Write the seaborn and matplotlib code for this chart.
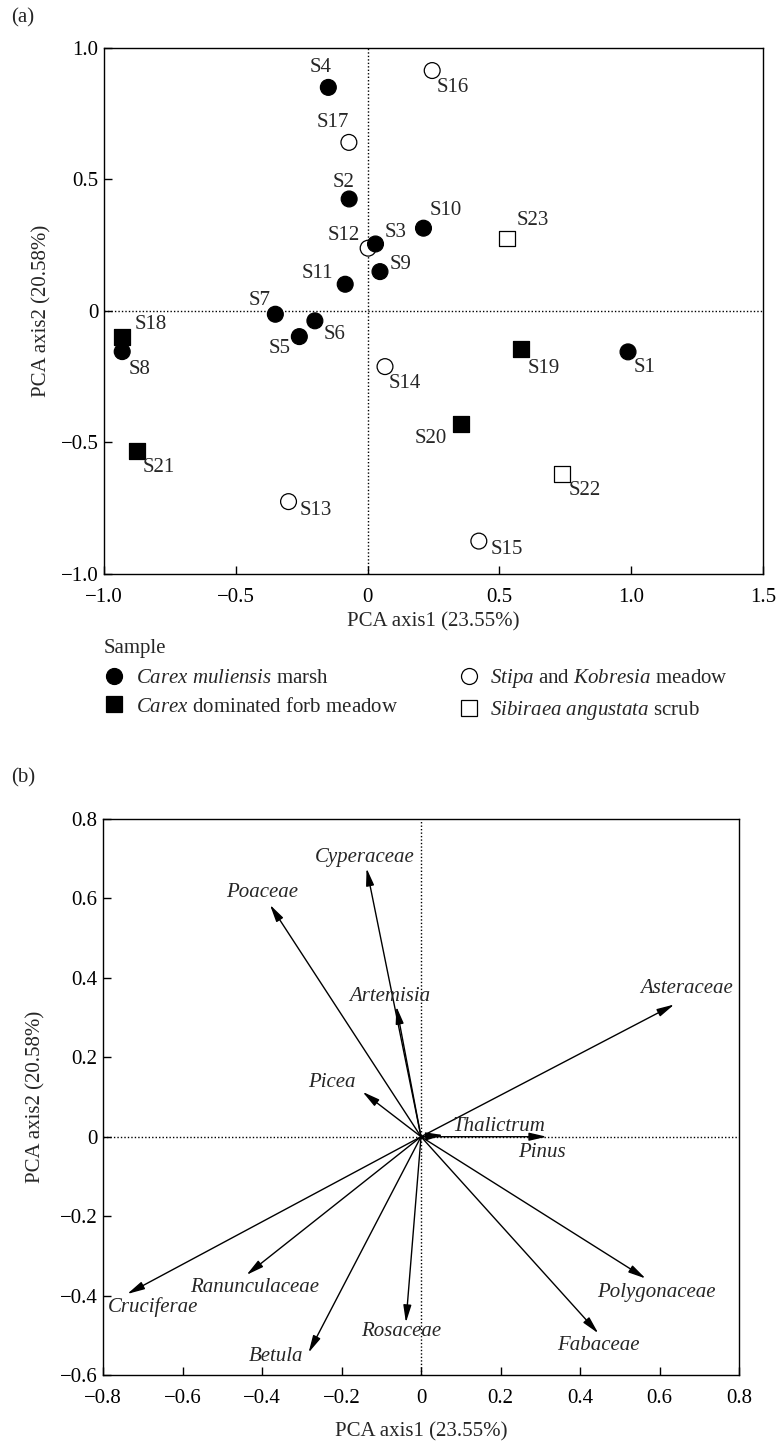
"""PCA of surface pollen samples: (a) sample scores, (b) taxon loadings."""

import matplotlib.pyplot as plt
import pandas as pd
import seaborn as sns
from matplotlib.lines import Line2D
from matplotlib.ticker import FuncFormatter, MultipleLocator

sns.set_theme(style="ticks")
plt.rcParams["font.family"] = ["Liberation Serif", "DejaVu Serif"]
plt.rcParams["mathtext.fontset"] = "custom"
plt.rcParams["mathtext.rm"] = "Liberation Serif"
plt.rcParams["mathtext.it"] = "Liberation Serif:italic"
plt.rcParams["font.size"] = 15
plt.rcParams["axes.unicode_minus"] = True

FS = 15

# --- (a) sample scores ---
SAMPLES = ["S1", "S2", "S3", "S4", "S5", "S6", "S7", "S8", "S9", "S10", "S11",
           "S12", "S13", "S14", "S15", "S16", "S17",
           "S18", "S19", "S20", "S21", "S22", "S23"]
AXIS1 = [0.988, -0.070, 0.030, -0.149, -0.259, -0.200, -0.350, -0.931, 0.047,
         0.212, -0.085, 0.002, -0.300, 0.066, 0.422, 0.245, -0.071,
         -0.931, 0.583, 0.354, -0.875, 0.736, 0.528]
AXIS2 = [-0.156, 0.425, 0.254, 0.849, -0.098, -0.038, -0.013, -0.155, 0.149,
         0.314, 0.101, 0.238, -0.725, -0.212, -0.875, 0.913, 0.640,
         -0.100, -0.146, -0.430, -0.532, -0.620, 0.275]
GROUP = ["marsh"] * 11 + ["meadow"] * 6 + ["forb"] * 4 + ["scrub"] * 2

GROUP_ORDER = ["meadow", "scrub", "marsh", "forb"]  # draw order (open first)
GROUP_LABELS = {
    "marsh": r"$\it{Carex\ muliensis}$ marsh",
    "forb": r"$\it{Carex}$ dominated forb meadow",
    "meadow": r"$\it{Stipa}$ and $\it{Kobresia}$ meadow",
    "scrub": r"$\it{Sibiraea\ angustata}$ scrub",
}
GROUP_MARKERS = {"marsh": "o", "forb": "s", "meadow": "o", "scrub": "s"}
GROUP_FACE = {"marsh": "black", "forb": "black", "meadow": "white", "scrub": "white"}

# label offsets (pixels) from each point
LABEL_OFFSET = {
    "S1": (17, -16), "S2": (-6, 16), "S3": (20, 11), "S4": (-8, 20),
    "S5": (-20, -12), "S6": (20, -14), "S7": (-16, 14), "S8": (17, -18),
    "S9": (21, 7), "S10": (22, 18), "S11": (-28, 11), "S12": (-24, 13),
    "S13": (27, -9), "S14": (20, -17), "S15": (28, -8), "S16": (21, -17),
    "S17": (-16, 20), "S18": (29, 13), "S19": (22, -19), "S20": (-30, -15),
    "S21": (22, -17), "S22": (23, -17), "S23": (26, 18),
}

# --- (b) taxon loadings ---
TAXA = ["Cyperaceae", "Poaceae", "Artemisia", "Picea", "Asteraceae",
        "Thalictrum", "Pinus", "Polygonaceae", "Fabaceae", "Rosaceae",
        "Betula", "Ranunculaceae", "Cruciferae"]
LOAD1 = [-0.137, -0.380, -0.062, -0.147, 0.637, 0.056, 0.316, 0.565, 0.446,
         -0.038, -0.283, -0.439, -0.739]
LOAD2 = [0.676, 0.584, 0.328, 0.113, 0.333, 0.004, 0.0, -0.357, -0.495,
         -0.468, -0.544, -0.348, -0.396]

TAXON_OFFSET = {
    "Cyperaceae": (-2, 11), "Poaceae": (-8, 12), "Artemisia": (-7, 10),
    "Picea": (-31, 9), "Asteraceae": (12, 16), "Thalictrum": (56, 9),
    "Pinus": (-5, -16), "Polygonaceae": (11, -14), "Fabaceae": (0, -12),
    "Rosaceae": (-5, -9), "Betula": (-32, -4), "Ranunculaceae": (8, -13),
    "Cruciferae": (26, -13),
}


def _fmt(v, _pos):
    if abs(v) < 1e-9:
        return "0"
    return f"{v:.1f}".replace("-", "\u2212")


def _style_axes(ax):
    for sp in ax.spines.values():
        sp.set_visible(True)
        sp.set_color("black")
        sp.set_linewidth(1.0)
    ax.tick_params(direction="in", length=6, width=1.0, colors="black",
                   labelsize=FS, top=False, right=False)
    ax.tick_params(axis="x", pad=10)
    ax.tick_params(axis="y", pad=4)
    ax.xaxis.set_major_formatter(FuncFormatter(_fmt))
    ax.yaxis.set_major_formatter(FuncFormatter(_fmt))
    ax.axhline(0, color="black", lw=1.0, ls=(0, (1, 1.5)), zorder=1)
    ax.axvline(0, color="black", lw=1.0, ls=(0, (1, 1.5)), zorder=1)


fig = plt.figure(figsize=(7.78, 14.44), dpi=100)

# ---------------- panel (a) ----------------
ax_a = fig.add_axes([0.1337, 0.6025, 0.847, 0.3645])
df = pd.DataFrame({"sample": SAMPLES, "pc1": AXIS1, "pc2": AXIS2, "group": GROUP})
df["group"] = pd.Categorical(df["group"], categories=GROUP_ORDER, ordered=True)
df = df.sort_values("group", kind="stable")

sns.scatterplot(
    data=df, x="pc1", y="pc2", hue="group", style="group",
    hue_order=GROUP_ORDER, style_order=GROUP_ORDER,
    palette=GROUP_FACE, markers=GROUP_MARKERS,
    s=130, edgecolor="black", linewidth=0.9, legend=False, zorder=3, ax=ax_a,
)
for name, x, y in zip(SAMPLES, AXIS1, AXIS2):
    ax_a.annotate(name, (x, y), xytext=LABEL_OFFSET[name],
                  textcoords="offset pixels", ha="center", va="center",
                  fontsize=FS, zorder=4)

ax_a.set_xlim(-1.0, 1.5)
ax_a.set_ylim(-1.0, 1.0)
ax_a.xaxis.set_major_locator(MultipleLocator(0.5))
ax_a.yaxis.set_major_locator(MultipleLocator(0.5))
_style_axes(ax_a)
ax_a.set_xlabel("PCA axis1 (23.55%)", fontsize=FS)
ax_a.set_ylabel("PCA axis2 (20.58%)", fontsize=FS)
ax_a.xaxis.set_label_coords(0.5, -0.072)
ax_a.yaxis.set_label_coords(-0.08, 0.5)

handles = [
    Line2D([], [], ls="none", marker=GROUP_MARKERS[g], markersize=11.5,
           markerfacecolor=GROUP_FACE[g], markeredgecolor="black",
           markeredgewidth=0.9)
    for g in ["marsh", "forb", "meadow", "scrub"]
]
labels = [GROUP_LABELS[g] for g in ["marsh", "forb", "meadow", "scrub"]]
leg = fig.legend(
    handles, labels, ncol=2, title="Sample", alignment="left",
    loc="upper left", bbox_to_anchor=(93 / 778, 1 - 629 / 1444),
    frameon=False, fontsize=FS, title_fontsize=FS, borderpad=0,
    handlelength=1.0, handletextpad=0.54, columnspacing=2.9,
    labelspacing=0.42,
)

fig.text(23 / 778, 1 - 18 / 1444, "(a)", ha="center", va="center", fontsize=FS)

# ---------------- panel (b) ----------------
ax_b = fig.add_axes([0.1324, 0.0478, 0.8175, 0.385])
ax_b.set_xlim(-0.8, 0.8)
ax_b.set_ylim(-0.6, 0.8)
ax_b.xaxis.set_major_locator(MultipleLocator(0.2))
ax_b.yaxis.set_major_locator(MultipleLocator(0.2))
_style_axes(ax_b)

for name, x, y in zip(TAXA, LOAD1, LOAD2):
    ax_b.annotate(
        "", xy=(x, y), xytext=(0, 0),
        arrowprops=dict(arrowstyle="-|>,head_length=0.95,head_width=0.22",
                        mutation_scale=11, lw=1.0, color="black",
                        shrinkA=0, shrinkB=0),
        zorder=3,
    )
    ax_b.annotate(name, (x, y), xytext=TAXON_OFFSET[name],
                  textcoords="offset pixels", ha="center", va="center",
                  fontsize=FS, fontstyle="italic", zorder=4)

ax_b.set_xlabel("PCA axis1 (23.55%)", fontsize=FS)
ax_b.set_ylabel("PCA axis2 (20.58%)", fontsize=FS)
ax_b.xaxis.set_label_coords(0.5, -0.085)
ax_b.yaxis.set_label_coords(-0.09, 0.5)

fig.text(23 / 778, 1 - 778 / 1444, "(b)", ha="center", va="center", fontsize=FS)

fig.savefig("out.png", dpi=100)
